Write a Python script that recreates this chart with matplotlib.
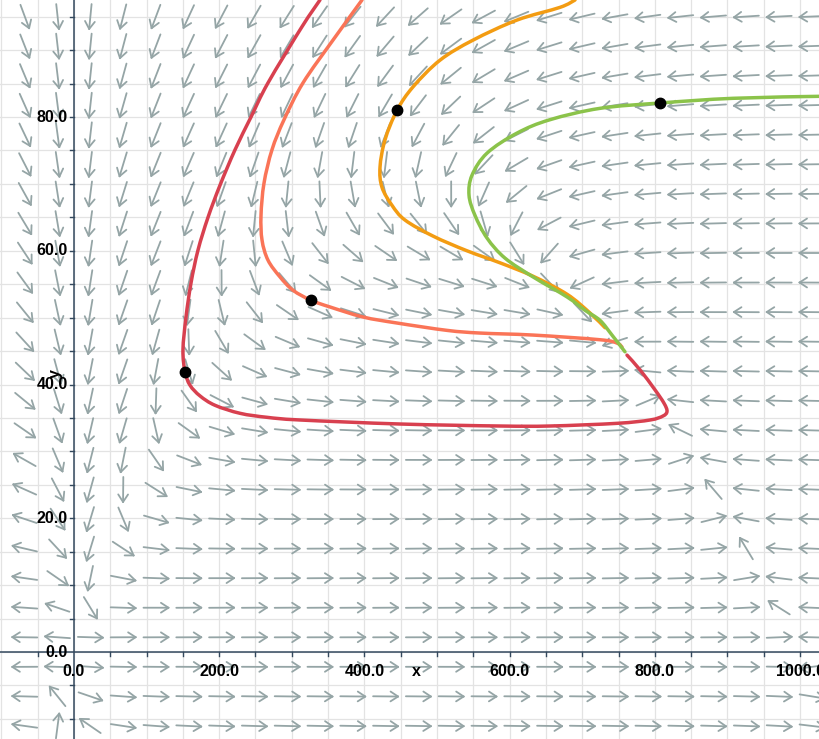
import numpy as np
import matplotlib
matplotlib.use("Agg")
import matplotlib.pyplot as plt
from matplotlib.collections import LineCollection
from matplotlib.path import Path
from matplotlib.patches import PathPatch

# ratio-dependent predator-prey model behind the direction field
R = 0.48      # prey growth rate
K = 1000.0    # prey carrying capacity
A = 1.0       # attack rate
M = 0.44      # prey weight in the functional response
E = 0.0648    # conversion into predators
D = 0.13      # predator death rate

# view window
XMIN, XMAX = -101.9, 1027.5
YMIN, YMAX = -13.0, 97.5
W_PX, H_PX = 820, 739

# solution curves
red_x = [338.8, 314.0, 267.2, 243.8, 221.8, 201.1, 184.6, 170.8, 161.2, 154.3,
         150.1, 152.9, 159.8, 173.6, 194.2, 228.7, 265.8, 311.3, 449.0, 586.8,
         655.6, 747.9, 793.4, 811.3, 816.8, 812.7, 800.3, 779.6, 761.7]
red_y = [97.5, 93.5, 85.1, 80.0, 75.1, 69.8, 65.0, 60.1, 55.2, 50.1,
         45.2, 41.9, 39.9, 38.3, 36.9, 35.7, 35.1, 34.7, 34.1, 33.8,
         33.8, 34.2, 34.7, 35.3, 36.0, 37.2, 39.2, 42.2, 44.4]

salmon_x = [396.7, 356.7, 315.4, 289.3, 272.7, 261.7, 257.6, 259.0, 267.2, 283.7,
            301.7, 326.4, 352.6, 398.1, 444.9, 513.8, 559.2, 632.2, 724.5, 747.9,
            754.8]
salmon_y = [97.5, 91.5, 85.1, 79.6, 75.1, 70.1, 65.3, 61.6, 58.6, 56.1,
            54.1, 52.6, 51.6, 50.1, 49.2, 48.1, 47.7, 47.4, 46.7, 46.2,
            45.6]

orange_x = [690.1, 669.4, 610.2, 549.6, 504.1, 466.9, 444.9, 428.4, 421.5, 424.2,
            438.0, 455.9, 494.5, 541.3, 586.8, 632.2, 679.1, 710.7, 731.4]
orange_y = [97.5, 96.4, 94.5, 91.5, 88.5, 84.5, 81.0, 76.6, 72.5, 69.5,
            66.8, 64.6, 62.2, 60.0, 58.2, 56.2, 53.5, 50.7, 48.5]

green_x = [1027.5, 907.7, 807.2, 724.5, 655.6, 610.2, 568.9, 548.2, 544.1, 552.3,
           568.9, 593.7, 632.2, 679.1, 703.9, 724.5, 741.0, 758.9]
green_y = [83.1, 82.8, 82.1, 81.3, 79.6, 77.6, 74.6, 71.3, 68.3, 65.3,
           61.9, 58.9, 56.1, 53.1, 51.1, 49.6, 47.4, 44.9]

# starting points of the curves
dot_x = [152.9, 326.4, 444.9, 807.2]
dot_y = [41.9, 52.6, 81.0, 82.1]

curve_colors = ["#d8404f", "#fa7457", "#f39c12", "#8bc34a"]

x_ticklabels = [0, 200, 400, 600, 800, 1000]
y_ticklabels = [0, 20, 40, 60, 80]


def field(x, y):
    den = y + M * x
    dx = R * x * (1 - x / K) - A * x * y / den
    dy = y * (E * x / den - D)
    return dx, dy


def smooth_path(xs, ys, sx, sy):
    # cubic Bezier through the points (Catmull-Rom tangents in pixel space)
    p = np.column_stack([np.asarray(xs) * sx, np.asarray(ys) * sy])
    verts = [p[0]]
    codes = [Path.MOVETO]
    for i in range(len(p) - 1):
        p0 = p[i - 1] if i > 0 else p[i]
        p3 = p[i + 2] if i + 2 < len(p) else p[i + 1]
        c1 = p[i] + (p[i + 1] - p0) / 6
        c2 = p[i + 1] - (p3 - p[i]) / 6
        verts += [c1, c2, p[i + 1]]
        codes += [Path.CURVE4] * 3
    verts = np.array(verts) / [sx, sy]
    return Path(verts, codes)


fig = plt.figure(figsize=(W_PX / 100, H_PX / 100), dpi=100)
ax = fig.add_axes([0, 0, 1, 1])
ax.set_xlim(XMIN, XMAX)
ax.set_ylim(YMIN, YMAX)
ax.axis("off")

sx = W_PX / (XMAX - XMIN)   # pixels per unit
sy = H_PX / (YMAX - YMIN)

# grid
for gx in np.arange(-100, 1050, 50):
    ax.axvline(gx, color="#e3e3e3", lw=0.9, zorder=0)
for gy in np.arange(-10, 100, 5):
    ax.axhline(gy, color="#e3e3e3", lw=0.9, zorder=0)

# direction field, 25 x 25 cells aligned on the origin
step_x = (XMAX - XMIN) / 25
step_y = (YMAX - YMIN) / 25
cx = step_x * (np.arange(-5, 30) + 0.5)
cy = step_y * (np.arange(-5, 30) + 0.5)
cx = cx[(cx > XMIN) & (cx < XMAX)]
cy = cy[(cy > YMIN) & (cy < YMAX)]
gx, gy = np.meshgrid(cx, cy)
with np.errstate(divide="ignore", invalid="ignore"):
    u, v = field(gx, gy)
u = u * sx
v = v * sy
n = np.hypot(u, v)
ok = np.isfinite(n) & (n > 0)
u = np.where(ok, u / np.where(ok, n, 1), 0)
v = np.where(ok, v / np.where(ok, n, 1), 0)

half = 12.5     # half arrow length, px
head = 9.0      # arrow head arm, px
ang = np.radians(33)
segs = []
for x0, y0, ux, uy, good in zip(gx.ravel(), gy.ravel(), u.ravel(), v.ravel(), ok.ravel()):
    if not good:
        continue
    tail = (x0 - half * ux / sx, y0 - half * uy / sy)
    tip = (x0 + half * ux / sx, y0 + half * uy / sy)
    segs.append([tail, tip])
    for s in (ang, -ang):
        bx = -(ux * np.cos(s) - uy * np.sin(s))
        by = -(ux * np.sin(s) + uy * np.cos(s))
        segs.append([tip, (tip[0] + head * bx / sx, tip[1] + head * by / sy)])
ax.add_collection(LineCollection(segs, colors="#95a5a6", linewidths=1.3,
                                 capstyle="round", zorder=1))

# axes
ax.axhline(0, color="#34495e", lw=1.1, zorder=2)
ax.axvline(0, color="#34495e", lw=1.1, zorder=2)
tick_len_x = 4 / sy
tick_len_y = 4 / sx
for t in np.arange(-50, 1050, 50):
    if t != 0:
        ax.plot([t, t], [0, -tick_len_x], color="#34495e", lw=1.0, zorder=2)
for t in np.arange(-10, 100, 5):
    if t != 0:
        ax.plot([0, -tick_len_y], [t, t], color="#34495e", lw=1.0, zorder=2)

# solution curves and starting points
curves = [(red_x, red_y), (salmon_x, salmon_y), (orange_x, orange_y), (green_x, green_y)]
for (xs, ys), c in zip(curves, curve_colors):
    ax.add_patch(PathPatch(smooth_path(xs, ys, sx, sy), facecolor="none",
                           edgecolor=c, lw=2.5, capstyle="round", zorder=3))
ax.plot(dot_x, dot_y, "o", color="black", markersize=7.5, zorder=4)

# labels
font = dict(family="Liberation Sans", weight="bold", fontsize=11.5, zorder=5)
for t in x_ticklabels:
    ax.text(t, -19 / sy, f"{t:.1f}", ha="center", va="center", **font)
for t in y_ticklabels:
    ax.text(-6 / sx, t, f"{t:.1f}", ha="right", va="center", **font)
ax.text(471, -19 / sy, "x", ha="center", va="center", **font)
ax.text(-19 / sx, 41.7, "y", ha="center", va="center", rotation=90, **font)

fig.savefig("out.png", dpi=100, facecolor="white")
